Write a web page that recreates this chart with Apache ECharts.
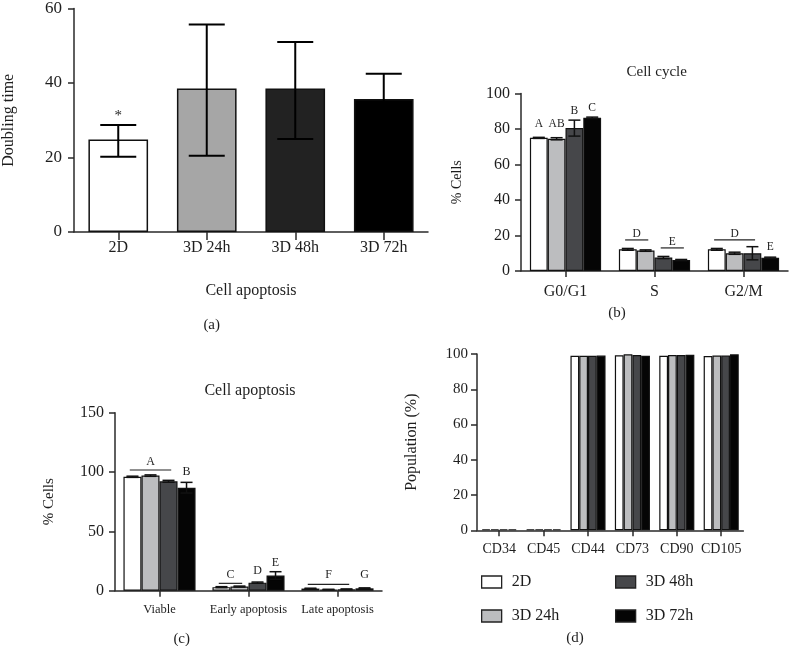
<!DOCTYPE html>
<html>
<head>
<meta charset="utf-8">
<script src="https://cdn.jsdelivr.net/npm/echarts@6/dist/echarts.min.js"></script>
<style>
html,body{margin:0;padding:0;background:#fff;}
#chart{width:791px;height:646px;}
</style>
</head>
<body>
<div id="chart"></div>
<script>
const FONT = '"Liberation Serif", "Times New Roman", serif';

// ---- Panel (a): doubling time ----
const aCats = ['2D', '3D 24h', '3D 48h', '3D 72h'];
const aValues = [24.8, 38.5, 38.5, 35.7];
const aErrLow = [20.2, 20.5, 25.0, 28.9];
const aErrHigh = [28.7, 55.7, 51.0, 42.5];
const aYTicks = { min: 0, max: 60, interval: 20 };
const aAnnot = [{ cat: 0, from: 0, to: 0, y: 31.2, text: '*' }];

// ---- Panel (b): cell cycle ----
const groupNames = ['2D', '3D 24h', '3D 48h', '3D 72h'];
const bCats = ['G0/G1', 'S', 'G2/M'];
const b2D = [75.0, 12.2, 12.2];
const b24 = [74.5, 11.5, 10.0];
const b48 = [80.5, 7.6, 10.0];
const b72 = [86.3, 6.2, 7.5];
const bErr2D = [0.3, 0.5, 0.5];
const bErr24 = [0.6, 0.4, 0.6];
const bErr48 = [4.5, 0.6, 3.7];
const bErr72 = [0.4, 0.3, 0.3];
const bYTicks = { min: 0, max: 100, interval: 20 };
const bAnnot = [
  { cat: 0, from: 0, to: 0, y: 82.8, text: 'A' },
  { cat: 0, from: 1, to: 1, y: 82.8, text: 'AB' },
  { cat: 0, from: 2, to: 2, y: 90.0, text: 'B' },
  { cat: 0, from: 3, to: 3, y: 92.0, text: 'C' },
  { cat: 1, from: 0, to: 1, y: 20.8, line: 17.5, text: 'D' },
  { cat: 1, from: 2, to: 3, y: 16.6, line: 13.0, text: 'E' },
  { cat: 2, from: 0, to: 2, y: 20.8, line: 17.5, text: 'D' },
  { cat: 2, from: 3, to: 3, y: 13.7, text: 'E' }
];

// ---- Panel (c): cell apoptosis ----
const cCats = ['Viable', 'Early apoptosis', 'Late apoptosis'];
const c2D = [96.0, 3.0, 1.8];
const c24 = [97.0, 3.5, 1.0];
const c48 = [92.2, 6.8, 1.2];
const c72 = [86.8, 12.8, 2.0];
const cErr2D = [0.5, 0.4, 0.3];
const cErr24 = [0.6, 0.4, 0.2];
const cErr48 = [0.8, 0.5, 0.3];
const cErr72 = [4.5, 3.2, 0.4];
const cYTicks = { min: 0, max: 150, interval: 50 };
const cAnnot = [
  { cat: 0, from: 0, to: 2, y: 108.7, line: 101.7, text: 'A' },
  { cat: 0, from: 3, to: 3, y: 100.0, text: 'B' },
  { cat: 1, from: 0, to: 1, y: 13.1, line: 6.2, text: 'C' },
  { cat: 1, from: 2, to: 2, y: 16.8, text: 'D' },
  { cat: 1, from: 3, to: 3, y: 23.6, text: 'E' },
  { cat: 2, from: 0, to: 2, y: 13.1, line: 5.4, text: 'F' },
  { cat: 2, from: 3, to: 3, y: 13.1, text: 'G' }
];

// ---- Panel (d): surface markers ----
const dCats = ['CD34', 'CD45', 'CD44', 'CD73', 'CD90', 'CD105'];
const d2D = [0.6, 0.6, 99.0, 99.3, 99.0, 98.8];
const d24 = [0.6, 0.6, 99.0, 99.8, 99.4, 99.1];
const d48 = [0.6, 0.6, 99.0, 99.4, 99.4, 99.1];
const d72 = [0.6, 0.6, 99.1, 99.0, 99.6, 99.8];
const dYTicks = { min: 0, max: 100, interval: 20 };

// ---- styles ----
const aColors = ['#ffffff', '#a6a6a6', '#222222', '#000000'];
const grpColors = ['#ffffff', '#bcbdbf', '#46474a', '#050505'];
const AX = '#2a2a2a';
const TXT = '#1e1e1e';

function groupX(api, cat, si, gap, n) {
  const band = api.size([1, 0])[0];
  const total = band * (1 - gap);
  const w = total / n;
  const c = api.coord([cat, 0])[0];
  return { x: c - total / 2 + (si + 0.5) * w, w: w };
}

function errSeries(axis, rows, gap, n, capW, lw, color) {
  return {
    type: 'custom', xAxisIndex: axis, yAxisIndex: axis, silent: true, z: 5,
    data: rows, encode: { x: 0, y: [2, 3] },
    renderItem: function (params, api) {
      const cat = api.value(0), si = api.value(1);
      const g = groupX(api, cat, si, gap, n);
      const yLo = api.coord([cat, api.value(2)])[1];
      const yHi = api.coord([cat, api.value(3)])[1];
      const st = { stroke: color, lineWidth: lw };
      return {
        type: 'group', children: [
          { type: 'line', shape: { x1: g.x, y1: yLo, x2: g.x, y2: yHi }, style: st },
          { type: 'line', shape: { x1: g.x - capW / 2, y1: yHi, x2: g.x + capW / 2, y2: yHi }, style: st },
          { type: 'line', shape: { x1: g.x - capW / 2, y1: yLo, x2: g.x + capW / 2, y2: yLo }, style: st }
        ]
      };
    }
  };
}

function annotSeries(axis, list, gap, n, fontSize) {
  return {
    type: 'custom', xAxisIndex: axis, yAxisIndex: axis, silent: true, z: 6,
    data: list.map(function (a, i) { return [a.cat, a.y, i]; }),
    encode: { x: 0, y: 1 },
    renderItem: function (params, api) {
      const a = list[params.dataIndex];
      const g0 = groupX(api, a.cat, a.from, gap, n);
      const g1 = groupX(api, a.cat, a.to, gap, n);
      const ty = api.coord([a.cat, a.y])[1];
      const children = [{
        type: 'text',
        style: { x: (g0.x + g1.x) / 2, y: ty, text: a.text, align: 'center', verticalAlign: 'middle',
          fontFamily: FONT, fontSize: fontSize, fill: TXT }
      }];
      if (a.line !== undefined) {
        const ly = api.coord([a.cat, a.line])[1];
        children.push({ type: 'line', shape: { x1: g0.x - 0.15 * g0.w, y1: ly, x2: g1.x + 0.15 * g1.w, y2: ly },
          style: { stroke: '#222', lineWidth: 1.2 } });
      }
      return { type: 'group', children: children };
    }
  };
}

function errRows(vals, errs) {
  const rows = [];
  vals.forEach(function (v, si) {
    v.forEach(function (val, cat) { rows.push([cat, si, val - errs[si][cat], val + errs[si][cat]]); });
  });
  return rows;
}

function yAx(gi, ticks, name, nameGap, labelSize, nameSize, margin) {
  return {
    gridIndex: gi, type: 'value', min: ticks.min, max: ticks.max, interval: ticks.interval,
    name: name, nameLocation: 'middle', nameGap: nameGap,
    nameTextStyle: { fontFamily: FONT, fontSize: nameSize, color: TXT },
    axisLine: { show: true, lineStyle: { color: AX, width: 1.5 } },
    axisTick: { show: true, length: 6, lineStyle: { color: AX, width: 1.5 } },
    axisLabel: { fontFamily: FONT, fontSize: labelSize, color: TXT, margin: margin },
    splitLine: { show: false }
  };
}

function xAx(gi, cats, labelSize, margin, tickLen) {
  return {
    gridIndex: gi, type: 'category', data: cats,
    axisLine: { show: true, lineStyle: { color: AX, width: 1.5 } },
    axisTick: { show: true, alignWithLabel: true, length: tickLen, lineStyle: { color: AX, width: 1.5 } },
    axisLabel: { fontFamily: FONT, fontSize: labelSize, color: TXT, margin: margin, interval: 0 },
    splitLine: { show: false }
  };
}

function barSeries(name, data, color, axis, gap) {
  return {
    type: 'bar', name: name, xAxisIndex: axis, yAxisIndex: axis, data: data,
    barGap: '0%', barCategoryGap: gap, silent: true,
    itemStyle: { color: color, borderColor: '#111', borderWidth: 1.2 }
  };
}

const aGap = 0.326, bGap = 0.20, cGap = 0.19, dGap = 0.21;
const bVals = [b2D, b24, b48, b72], cVals = [c2D, c24, c48, c72], dVals = [d2D, d24, d48, d72];

const series = [];
// (a)
series.push({
  type: 'bar', name: 'Doubling time', xAxisIndex: 0, yAxisIndex: 0, silent: true,
  barCategoryGap: (aGap * 100) + '%',
  data: aValues.map(function (v, i) { return { value: v, itemStyle: { color: aColors[i] } }; }),
  itemStyle: { borderColor: '#111', borderWidth: 1.5 }
});
series.push(errSeries(0, aValues.map(function (v, i) { return [i, 0, aErrLow[i], aErrHigh[i]]; }), aGap, 1, 36, 2, '#000'));
series.push(annotSeries(0, aAnnot, aGap, 1, 15));
// (b)
bVals.forEach(function (v, i) { series.push(barSeries('Cell cycle ' + groupNames[i], v, grpColors[i], 1, (bGap * 100) + '%')); });
series.push(errSeries(1, errRows(bVals, [bErr2D, bErr24, bErr48, bErr72]), bGap, 4, 12, 1.5, '#111'));
series.push(annotSeries(1, bAnnot, bGap, 4, 11.5));
// (c)
cVals.forEach(function (v, i) { series.push(barSeries('Cell apoptosis ' + groupNames[i], v, grpColors[i], 2, (cGap * 100) + '%')); });
series.push(errSeries(2, errRows(cVals, [cErr2D, cErr24, cErr48, cErr72]), cGap, 4, 12, 1.5, '#111'));
series.push(annotSeries(2, cAnnot, cGap, 4, 12));
// (d)
dVals.forEach(function (v, i) { series.push(barSeries(groupNames[i], v, grpColors[i], 3, (dGap * 100) + '%')); });

function txt(x, y, text, size) {
  return { type: 'text', x: x, y: y, silent: true,
    style: { text: text, align: 'center', verticalAlign: 'middle', fontFamily: FONT, fontSize: size, fill: TXT } };
}

const legendBase = {
  orient: 'vertical', itemWidth: 20, itemHeight: 12, itemGap: 18, icon: 'rect', selectedMode: false,
  textStyle: { fontFamily: FONT, fontSize: 16, color: TXT, padding: [0, 0, 0, 5] },
  itemStyle: { borderColor: '#222', borderWidth: 1.3 }
};

const option = {
  animation: false,
  backgroundColor: '#ffffff',
  grid: [
    { left: 72, top: 7, width: 356, height: 225 },
    { left: 521, top: 93.5, width: 267, height: 177.5 },
    { left: 115, top: 412.7, width: 267, height: 178 },
    { left: 477, top: 354, width: 266.4, height: 176.3 }
  ],
  xAxis: [
    Object.assign(xAx(0, aCats, 16, 8, 8), { name: 'Cell apoptosis', nameLocation: 'middle', nameGap: 51,
      nameTextStyle: { fontFamily: FONT, fontSize: 16, color: TXT } }),
    xAx(1, bCats, 16, 13, 6),
    xAx(2, cCats, 12.5, 13, 6),
    xAx(3, dCats, 14, 12, 6)
  ],
  yAxis: [
    yAx(0, aYTicks, 'Doubling time', 57, 17, 16, 12),
    yAx(1, bYTicks, '% Cells', 57, 16, 14, 11),
    yAx(2, cYTicks, '% Cells', 58, 16, 15, 11),
    yAx(3, dYTicks, 'Population (%)', 57, 15, 16, 9)
  ],
  legend: [
    Object.assign({}, legendBase, { data: ['2D', '3D 24h'], left: 476, top: 569 }),
    Object.assign({}, legendBase, { data: ['3D 48h', '3D 72h'], left: 610, top: 569 })
  ],
  graphic: [
    txt(656.7, 71.7, 'Cell cycle', 15),
    txt(250, 390.7, 'Cell apoptosis', 16),
    txt(211.7, 325, '(a)', 15),
    txt(617, 313, '(b)', 15),
    txt(181.7, 639, '(c)', 15),
    txt(575, 638, '(d)', 15)
  ],
  series: series
};

const chart = echarts.init(document.getElementById('chart'), null, { renderer: 'canvas' });
chart.setOption(option);
</script>
</body>
</html>
